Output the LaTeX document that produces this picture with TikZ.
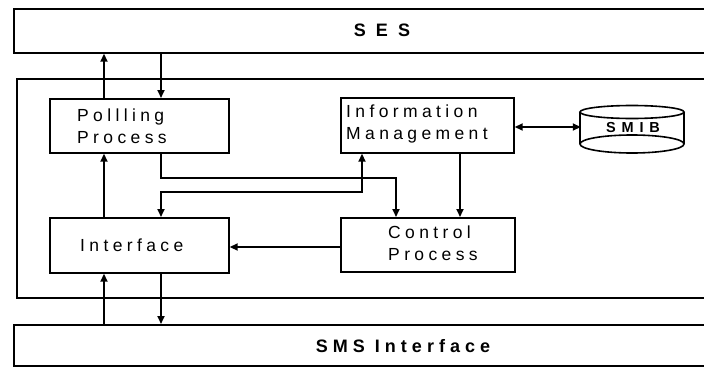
\documentclass[tikz,border=0pt]{standalone}
\usepackage{fontspec}
\setmainfont{Liberation Sans}
\newfontfamily\boxfont[LetterSpace=25]{Liberation Sans}
\newfontfamily\headfont[LetterSpace=28]{Liberation Sans}
\newfontfamily\storefont[LetterSpace=40]{Liberation Sans}
\usetikzlibrary{arrows.meta}

\tikzset{
  band/.style={draw, line width=1.7pt, inner sep=0pt, anchor=north west},
  block/.style={draw, line width=1.7pt, inner sep=0pt, anchor=north west},
  lbl/.style={inner sep=0pt, anchor=west, align=left,
              font=\boxfont\fontsize{17.5}{21.5}\selectfont},
  title/.style={inner sep=0pt, font=\headfont\bfseries\fontsize{18}{20}\selectfont},
  conn/.style={line width=1.7pt, -{Triangle[length=8pt,width=7pt]}},
  twoway/.style={line width=1.7pt, {Triangle[length=8pt,width=7pt]}-{Triangle[length=8pt,width=7pt]}},
}

\begin{document}
\begin{tikzpicture}[x=1pt,y=-1pt]
\useasboundingbox (0,0) rectangle (704,367);
\clip (0,0) rectangle (704,367);

% layers
\node[band, minimum width=720pt, minimum height=44pt] (ses) at (13,8) {};
\node[title] (sestxt) at (382,30) {S E S};
\node[band, minimum width=720pt, minimum height=219pt] (core) at (16,78) {};
\node[band, minimum width=720pt, minimum height=41pt] (sms) at (13,324) {};
\node[title] (smstxt) at (403,346) {SMS Interface};

% processing blocks
\node[block, minimum width=179pt, minimum height=54pt] (polling) at (49,98) {};
\node[lbl] (pollingtxt) at (77,126) {Pollling\\Process};
\node[block, minimum width=173pt, minimum height=55pt] (info) at (340,97) {};
\node[lbl] (infotxt) at (346,124) {Information\\Management};
\node[block, minimum width=179pt, minimum height=55pt] (interface) at (49,217) {};
\node[lbl] (interfacetxt) at (80,245) {Interface};
\node[block, minimum width=174pt, minimum height=54pt] (control) at (340,217) {};
\node[lbl] (controltxt) at (388,243) {Control\\Process};

% SMIB store
\node[inner sep=0pt, minimum width=104pt, minimum height=46pt,
      font=\storefont\bfseries\fontsize{14.5}{16}\selectfont] (smib) at (633,128) {SMIB};
\draw[line width=1.6pt] (632,112) ellipse [x radius=52, y radius=6.5];
\draw[line width=1.6pt] (580,112) -- (580,144) (684,112) -- (684,144);
\draw[line width=1.6pt] (632,144) ellipse [x radius=52, y radius=9];

% routing columns and rows
\coordinate (x104) at (104,0);
\coordinate (x161) at (161,0);
\coordinate (x362) at (362,0);
\coordinate (x396) at (396,0);
\coordinate (x460) at (460,0);
\coordinate (y127) at (0,127);
\coordinate (y178) at (0,178);
\coordinate (y192) at (0,192);
\coordinate (y247) at (0,247);

% connectors
\draw[conn] (polling.north -| x104) -- (ses.south -| x104);
\draw[conn] (ses.south -| x161) -- (polling.north -| x161);
\draw[conn] (interface.north -| x104) -- (polling.south -| x104);
\draw[conn] (polling.south -| x161) |- (x396 |- y178) -- (control.north -| x396);
\draw[twoway] (info.south -| x362) |- (x161 |- y192) -- (interface.north -| x161);
\draw[conn] (info.south -| x460) -- (control.north -| x460);
\draw[conn] (control.west |- y247) -- (interface.east |- y247);
\draw[twoway] (info.east |- y127) -- (smib.west |- y127);
\draw[conn] (sms.north -| x104) -- (interface.south -| x104);
\draw[conn] (interface.south -| x161) -- (sms.north -| x161);
\end{tikzpicture}
\end{document}
